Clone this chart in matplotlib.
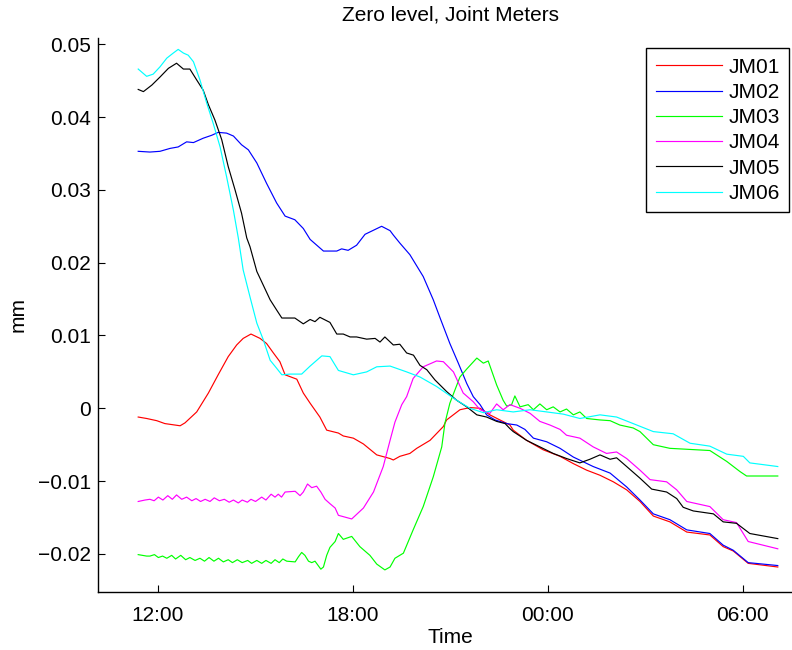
import matplotlib
matplotlib.use('Agg')
import matplotlib.pyplot as plt
import matplotlib.dates as mdates
from matplotlib.ticker import FixedLocator, FuncFormatter
from datetime import datetime, timedelta

# ---- data: hours since midnight of first day (values > 24 are next day), values in mm ----
JM01_t = [11.40, 11.66, 11.97, 12.22, 12.69, 12.84, 13.20, 13.56, 13.86, 14.17, 14.43, 14.63, 14.87, 15.15, 15.35, 15.56, 15.76, 15.92, 16.28, 16.48, 16.69, 16.99, 17.20, 17.56, 17.71, 18.02, 18.33, 18.74, 19.15, 19.25, 19.45, 19.76, 19.97, 20.38, 20.79, 20.89, 21.30, 21.61, 21.92, 22.22, 22.53, 22.84, 22.94, 23.35, 23.86, 24.38, 24.79, 25.20, 25.61, 26.02, 26.43, 26.84, 27.25, 27.76, 28.28, 28.99, 29.40, 29.71, 30.17, 31.08]
JM01_v = [-0.0012, -0.0014, -0.0017, -0.0021, -0.0024, -0.0020, -0.0005, 0.0021, 0.0046, 0.0071, 0.0087, 0.0096, 0.0102, 0.0096, 0.0089, 0.0076, 0.0064, 0.0046, 0.0040, 0.0021, 0.0007, -0.0012, -0.0030, -0.0034, -0.0038, -0.0041, -0.0049, -0.0064, -0.0069, -0.0071, -0.0066, -0.0062, -0.0055, -0.0044, -0.0025, -0.0016, -0.0002, 0.0001, 0.0000, -0.0009, -0.0016, -0.0023, -0.0030, -0.0044, -0.0057, -0.0066, -0.0076, -0.0085, -0.0092, -0.0101, -0.0112, -0.0128, -0.0148, -0.0156, -0.0170, -0.0174, -0.0190, -0.0196, -0.0213, -0.0218]

JM02_t = [11.40, 11.76, 12.07, 12.38, 12.63, 12.89, 13.10, 13.40, 13.66, 13.86, 14.12, 14.33, 14.58, 14.79, 15.05, 15.35, 15.66, 15.92, 16.22, 16.48, 16.69, 17.10, 17.51, 17.66, 17.86, 18.12, 18.38, 18.89, 19.15, 19.25, 19.45, 19.76, 20.17, 20.48, 20.69, 20.99, 21.25, 21.51, 21.71, 21.92, 22.12, 22.38, 22.74, 23.05, 23.30, 23.56, 23.97, 24.38, 24.79, 25.40, 25.92, 26.43, 26.84, 27.25, 27.76, 28.28, 28.99, 29.40, 29.71, 30.17, 31.08]
JM02_v = [0.0353, 0.0352, 0.0353, 0.0357, 0.0359, 0.0366, 0.0365, 0.0371, 0.0375, 0.0379, 0.0378, 0.0374, 0.0362, 0.0355, 0.0337, 0.0309, 0.0282, 0.0264, 0.0259, 0.0247, 0.0232, 0.0216, 0.0216, 0.0219, 0.0217, 0.0224, 0.0239, 0.0250, 0.0244, 0.0238, 0.0227, 0.0211, 0.0181, 0.0149, 0.0124, 0.0089, 0.0062, 0.0034, 0.0016, 0.0005, -0.0009, -0.0016, -0.0021, -0.0023, -0.0029, -0.0041, -0.0046, -0.0055, -0.0067, -0.0080, -0.0089, -0.0108, -0.0126, -0.0145, -0.0153, -0.0167, -0.0172, -0.0188, -0.0195, -0.0212, -0.0216]

JM03_t = [11.40, 11.66, 11.76, 11.90, 12.02, 12.15, 12.28, 12.43, 12.55, 12.71, 12.86, 12.99, 13.15, 13.30, 13.44, 13.58, 13.73, 13.87, 14.02, 14.17, 14.30, 14.45, 14.60, 14.77, 14.89, 15.05, 15.20, 15.33, 15.49, 15.61, 15.74, 15.85, 15.97, 16.23, 16.33, 16.43, 16.53, 16.64, 16.74, 16.84, 17.02, 17.10, 17.20, 17.30, 17.46,
          17.56, 17.71, 17.97, 18.22, 18.53, 18.74, 18.99, 19.15, 19.30, 19.56, 19.86, 20.17, 20.48, 20.74, 20.84, 20.99, 21.30, 21.51, 21.82, 22.02, 22.17, 22.43, 22.63, 22.74, 22.89, 22.99, 23.15, 23.40, 23.56, 23.76, 23.97, 24.17, 24.38, 24.58, 24.79, 24.99, 25.20, 25.61, 25.92, 26.22, 26.63, 26.84, 27.25, 27.76, 28.99, 29.51, 29.92, 30.12, 31.08]
JM03_v = [-0.0201, -0.0203, -0.0203, -0.0201, -0.0205, -0.0203, -0.0206, -0.0202, -0.0207, -0.0202, -0.0208, -0.0205, -0.0209, -0.0206, -0.0210, -0.0205, -0.0210, -0.0206, -0.0211, -0.0208, -0.0212, -0.0208, -0.0212, -0.0209, -0.0213, -0.0209, -0.0213, -0.0209, -0.0213, -0.0208, -0.0212, -0.0207, -0.0210, -0.0211, -0.0204, -0.0198, -0.0202, -0.0210, -0.0212, -0.0210, -0.0221, -0.0218, -0.0202, -0.0191, -0.0183,
          -0.0172, -0.0180, -0.0176, -0.0190, -0.0202, -0.0214, -0.0222, -0.0218, -0.0206, -0.0199, -0.0167, -0.0135, -0.0094, -0.0053, -0.0020, 0.0007, 0.0043, 0.0054, 0.0069, 0.0062, 0.0065, 0.0032, 0.0011, 0.0003, 0.0005, 0.0017, 0.0002, 0.0005, -0.0002, 0.0006, -0.0002, 0.0002, -0.0005, -0.0001, -0.0009, -0.0005, -0.0014, -0.0016, -0.0017, -0.0023, -0.0027, -0.0032, -0.0050, -0.0055, -0.0058, -0.0073, -0.0087, -0.0093, -0.0093]

JM04_t = [11.40, 11.61, 11.76, 11.89, 12.02, 12.16, 12.31, 12.45, 12.58, 12.74, 12.89, 13.05, 13.18, 13.32, 13.46, 13.61, 13.74, 13.90, 14.05, 14.20, 14.33, 14.48, 14.60, 14.76, 14.87, 15.01, 15.20, 15.33, 15.49, 15.61, 15.71, 15.81, 15.92, 16.23, 16.38, 16.48, 16.61, 16.74, 16.89, 17.02, 17.15, 17.30, 17.46,
          17.56, 17.97, 18.33, 18.64, 18.94, 19.15, 19.30, 19.51, 19.66, 19.86, 20.17, 20.58, 20.79, 21.10, 21.40, 21.71, 21.92, 22.22, 22.43, 22.63, 22.84, 23.15, 23.46, 23.76, 24.07, 24.38, 24.58, 24.99, 25.40, 25.81, 26.12, 26.43, 26.84, 27.15, 27.66, 27.97, 28.28, 28.99, 29.40, 29.81, 30.17, 31.08]
JM04_v = [-0.0128, -0.0126, -0.0125, -0.0127, -0.0122, -0.0126, -0.0120, -0.0125, -0.0119, -0.0125, -0.0122, -0.0127, -0.0124, -0.0128, -0.0125, -0.0128, -0.0123, -0.0127, -0.0125, -0.0129, -0.0126, -0.0130, -0.0126, -0.0129, -0.0125, -0.0128, -0.0122, -0.0126, -0.0118, -0.0122, -0.0118, -0.0122, -0.0115, -0.0114, -0.0120, -0.0115, -0.0104, -0.0109, -0.0107, -0.0115, -0.0125, -0.0131, -0.0137,
          -0.0147, -0.0152, -0.0137, -0.0115, -0.0080, -0.0044, -0.0019, 0.0005, 0.0016, 0.0041, 0.0057, 0.0065, 0.0064, 0.0050, 0.0021, 0.0009, -0.0002, -0.0007, 0.0006, -0.0002, 0.0005, 0.0000, -0.0007, -0.0018, -0.0023, -0.0029, -0.0037, -0.0041, -0.0053, -0.0062, -0.0060, -0.0069, -0.0085, -0.0098, -0.0101, -0.0112, -0.0128, -0.0135, -0.0153, -0.0157, -0.0183, -0.0193]

JM05_t = [11.40, 11.56, 11.82, 12.07, 12.33, 12.58, 12.79, 12.99, 13.20, 13.40, 13.56, 13.76, 13.97, 14.17, 14.38, 14.58, 14.74, 14.84, 15.05, 15.25, 15.46, 15.66, 15.82, 16.22, 16.48, 16.69, 16.84, 16.99, 17.30, 17.51, 17.71, 17.92, 18.12, 18.43, 18.69, 18.84, 18.99, 19.25, 19.45, 19.66, 19.87, 20.07, 20.28, 20.53, 20.89, 21.20, 21.51, 21.82, 22.12, 22.43, 22.69, 22.84, 22.94, 23.35, 23.76, 24.17, 24.58, 24.99, 25.30, 25.61, 25.92, 26.12, 26.43, 26.84, 27.20, 27.66, 27.97, 28.17, 28.48, 29.10, 29.40, 29.81, 30.22, 31.08]
JM05_v = [0.0438, 0.0435, 0.0444, 0.0455, 0.0467, 0.0474, 0.0466, 0.0466, 0.0451, 0.0437, 0.0417, 0.0396, 0.0369, 0.0332, 0.0300, 0.0268, 0.0234, 0.0222, 0.0188, 0.0169, 0.0149, 0.0135, 0.0124, 0.0124, 0.0116, 0.0122, 0.0119, 0.0125, 0.0118, 0.0102, 0.0102, 0.0098, 0.0098, 0.0095, 0.0096, 0.0091, 0.0098, 0.0087, 0.0088, 0.0076, 0.0073, 0.0059, 0.0053, 0.0039, 0.0023, 0.0011, 0.0002, -0.0009, -0.0012, -0.0018, -0.0021, -0.0028, -0.0032, -0.0044, -0.0053, -0.0062, -0.0069, -0.0075, -0.0070, -0.0064, -0.0070, -0.0068, -0.0080, -0.0096, -0.0111, -0.0115, -0.0124, -0.0136, -0.0141, -0.0145, -0.0156, -0.0158, -0.0172, -0.0179]

JM06_t = [11.40, 11.66, 11.86, 12.07, 12.28, 12.48, 12.63, 12.79, 12.94, 13.10, 13.30, 13.51, 13.71, 13.92, 14.12, 14.33, 14.48, 14.63, 14.84, 15.05, 15.25, 15.46, 15.66, 15.82, 16.07, 16.43, 16.69, 17.05, 17.30, 17.56, 18.02, 18.43, 18.74, 19.15, 19.66, 20.07, 20.58, 21.20, 21.61, 22.02, 22.43, 22.94, 23.46, 23.97, 24.48, 24.99, 25.61, 26.12, 26.63, 27.25, 27.86, 28.38, 28.99, 29.51, 30.02, 30.22, 31.08]
JM06_v = [0.0466, 0.0456, 0.0459, 0.0469, 0.0481, 0.0488, 0.0493, 0.0488, 0.0485, 0.0476, 0.0451, 0.0419, 0.0391, 0.0359, 0.0318, 0.0272, 0.0234, 0.0190, 0.0153, 0.0117, 0.0094, 0.0066, 0.0055, 0.0046, 0.0047, 0.0047, 0.0058, 0.0072, 0.0071, 0.0052, 0.0046, 0.0050, 0.0057, 0.0058, 0.0050, 0.0043, 0.0030, 0.0011, 0.0000, -0.0006, -0.0002, -0.0005, -0.0002, -0.0005, -0.0008, -0.0014, -0.0009, -0.0012, -0.0021, -0.0032, -0.0035, -0.0048, -0.0052, -0.0063, -0.0066, -0.0075, -0.0080]

series_names = ['JM01', 'JM02', 'JM03', 'JM04', 'JM05', 'JM06']
series_t = [JM01_t, JM02_t, JM03_t, JM04_t, JM05_t, JM06_t]
series_v = [JM01_v, JM02_v, JM03_v, JM04_v, JM05_v, JM06_v]
series_colors = ['#ff0000', '#0000ff', '#00ff00', '#ff00ff', '#000000', '#00ffff']

y_ticks = [-0.02, -0.01, 0.0, 0.01, 0.02, 0.03, 0.04, 0.05]
x_range_hours = (10.163, 31.856)
y_range = (-0.025234, 0.050934)

BASE = datetime(2012, 1, 1)


def to_dt(hours):
    return [BASE + timedelta(hours=h) for h in hours]


plt.rcParams['font.family'] = ['Liberation Sans', 'DejaVu Sans']
FS = 15

fig = plt.figure(figsize=(7.92, 6.5), dpi=100)
ax = fig.add_axes([98 / 792, 58 / 650, 705 / 792, 554.5 / 650])

for name, t, v, c in zip(series_names, series_t, series_v, series_colors):
    ax.plot(to_dt(t), v, color=c, lw=0.85, label=name)

ax.set_xlim(to_dt([x_range_hours[0]])[0], to_dt([x_range_hours[1]])[0])
ax.set_ylim(*y_range)

ax.xaxis.set_major_locator(mdates.HourLocator(byhour=[0, 6, 12, 18]))
ax.xaxis.set_major_formatter(mdates.DateFormatter('%H:%M'))
ax.yaxis.set_major_locator(FixedLocator(y_ticks))


def yfmt(val, pos):
    if abs(val) < 1e-12:
        return '0'
    s = '%.2f' % val
    return s.replace('-', '\u2212')


ax.yaxis.set_major_formatter(FuncFormatter(yfmt))

for side in ['top', 'right']:
    ax.spines[side].set_visible(False)
for side in ['left', 'bottom']:
    ax.spines[side].set_linewidth(1.0)

ax.tick_params(axis='both', direction='in', length=5, width=0.8, labelsize=FS)
ax.tick_params(axis='y', pad=5)
ax.tick_params(axis='x', pad=10)

ax.set_title('Zero level, Joint Meters', fontsize=FS, pad=12)
ax.set_xlabel('Time', fontsize=FS)
ax.set_ylabel('mm', fontsize=FS)
ax.xaxis.set_label_coords(0.5, -0.0649)
ax.yaxis.set_label_coords((27.5 - 98) / 705, 0.5)

leg = ax.legend(loc='upper right', bbox_to_anchor=(789.3 / 792, 1 - 48.3 / 650),
                bbox_transform=fig.transFigure, borderaxespad=0, fontsize=FS,
                fancybox=False, framealpha=1, edgecolor='black',
                handlelength=3.2, handletextpad=0.3, labelspacing=0.3,
                borderpad=0.45)
leg.get_frame().set_linewidth(1.0)

fig.savefig('out.png', dpi=100, facecolor='white')
